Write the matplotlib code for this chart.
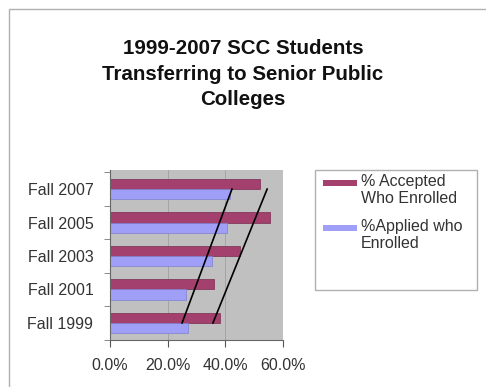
import matplotlib
matplotlib.use("Agg")
import matplotlib.pyplot as plt
from matplotlib.patches import Rectangle
import numpy as np

plt.rcParams['font.family'] = ['Liberation Sans', 'DejaVu Sans']

categories = ["Fall 1999", "Fall 2001", "Fall 2003", "Fall 2005", "Fall 2007"]
accepted_enrolled = [38.0, 36.0, 45.0, 55.5, 52.0]
applied_enrolled = [27.0, 26.5, 35.5, 40.5, 41.5]
series_labels = ["% Accepted\nWho Enrolled", "%Applied who\nEnrolled"]
xticks = [0, 20, 40, 60]
xtick_labels = ["0.0%", "20.0%", "40.0%", "60.0%"]
# hand-drawn trend lines (from 1999 to 2007)
trend_applied = [25.0, 42.3]
trend_accepted = [35.7, 54.5]

W, H = 486, 387
fig = plt.figure(figsize=(W / 100, H / 100), dpi=100)
fig.patch.set_facecolor("white")

# outer chart frame (extends beyond the image on right/bottom)
fig.patches.append(Rectangle((9 / W, -0.1), 1.2, 1 - 9 / H + 0.1, transform=fig.transFigure,
                             fill=False, edgecolor="#b0b0b0", linewidth=1.0))

ax = fig.add_axes([110 / W, 1 - 340 / H, 173 / W, 170 / H])
ax.set_facecolor("#c0c0c0")

red = "#a3406e"
blue = "#9f9ff7"
y = np.arange(len(categories))
h = 0.31
ax.barh(y + h / 2, accepted_enrolled, height=h, color=red, edgecolor="#7a2c50", linewidth=0.5, zorder=2)
ax.barh(y - h / 2, applied_enrolled, height=h, color=blue, edgecolor="#7f7fd0", linewidth=0.5, zorder=2)

ax.plot(trend_applied, [y[0], y[-1]], color="black", linewidth=1.2, zorder=3)
ax.plot(trend_accepted, [y[0], y[-1]], color="black", linewidth=1.2, zorder=3)

ax.set_xlim(0, 60)
ax.set_ylim(-0.51, 4.57)
ax.set_xticks(xticks)
ax.set_xticklabels(xtick_labels, fontsize=11.5, color="#333333")
ax.set_yticks(y)
ax.set_yticklabels(categories, fontsize=11.5, color="#333333")
ax.set_yticks(np.arange(-0.5, len(categories), 1.0), minor=True)
ax.tick_params(axis="y", which="major", length=0, pad=12)
ax.tick_params(axis="y", which="minor", length=4, color="#777777")
ax.tick_params(axis="x", which="major", length=5, color="#555555", pad=8)
ax.grid(axis="x", color="#999999", linewidth=0.5, zorder=1)
for s in ["top", "right"]:
    ax.spines[s].set_visible(False)
ax.spines["left"].set_color("#666666")
ax.spines["bottom"].set_color("#666666")

fig.text(243 / W, 1 - 74 / H,
         "1999-2007 SCC Students\nTransferring to Senior Public\nColleges",
         ha="center", va="center", fontsize=14.8, fontweight="bold", linespacing=1.45,
         color="#111111")

# legend box
lx0, ly0, lx1, ly1 = 315, 170, 477, 290
fig.patches.append(Rectangle((lx0 / W, 1 - ly1 / H), (lx1 - lx0) / W, (ly1 - ly0) / H,
                             transform=fig.transFigure, fill=True, facecolor="white",
                             edgecolor="#b0b0b0", linewidth=1.0))
for (py, col, lab) in [(183, red, series_labels[0]), (228, blue, series_labels[1])]:
    fig.patches.append(Rectangle((323 / W, 1 - (py + 3) / H), 34 / W, 6 / H,
                                 transform=fig.transFigure, facecolor=col, edgecolor="none"))
    fig.text(361 / W, 1 - (py - 9) / H, lab, ha="left", va="top", fontsize=11.5,
             color="#333333", linespacing=1.15)

fig.savefig("out.png", dpi=100)
